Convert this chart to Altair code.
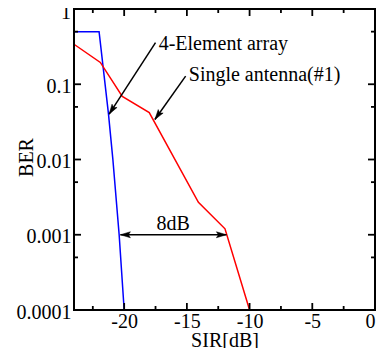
import math
import altair as alt
import pandas as pd

# ---- data ----
sir_array = [-24, -22.0, -21.25, -20.9, -20.4, -20.0]
ber_array = [0.5, 0.5, 0.04, 0.01, 0.001, 0.0001]
sir_single = [-24, -21.9, -20.15, -18.0, -14.08, -11.96, -10.0]
ber_single = [0.34, 0.195, 0.069, 0.042, 0.0027, 0.0012, 0.0001]

x_labels = [-20, -15, -10, -5, 0]
y_labels = [0.1, 0.01, 0.001, 0.0001]
y_top_label = [1]
x_major = [-20, -15, -10, -5]
x_minor = [-22.5, -17.5, -12.5, -7.5, -2.5]
y_major = [0.1, 0.01, 0.001]
y_minor = [0.5, 0.05, 0.005, 0.0005]

left_text = ["4-Element array", "Single antenna(#1)"]
left_text_x = [-17.25, -14.85]
left_text_y = [0.288, 0.110]
center_text = ["8dB"]
center_text_x = [-16.1]
center_text_y = [0.00114]

arrow_x = [-17.5, -15.1, -20.3]
arrow_y = [0.357, 0.128, 0.001]
arrow_x2 = [-21.2, -17.55, -11.85]
arrow_y2 = [0.04, 0.034, 0.001]
arrow_double = [False, False, True]

W, H = 301, 301
X_DOM = [-24, 0]
Y_DOM = [0.0001, 1]
FONT = "Liberation Serif"
MAJOR_LEN, MINOR_LEN = 7, 4


def px(x):
    return (x - X_DOM[0]) / (X_DOM[1] - X_DOM[0]) * W


def py(y):
    return (math.log10(Y_DOM[1]) - math.log10(y)) / (math.log10(Y_DOM[1]) - math.log10(Y_DOM[0])) * H


def head_angle(xf, yf, xt, yt):
    dx = px(xt) - px(xf)
    dy = py(yt) - py(yf)
    return math.degrees(math.atan2(dx, -dy)) % 360


heads = []
for i in range(len(arrow_x)):
    heads.append({"x": arrow_x2[i], "y": arrow_y2[i],
                  "ang": head_angle(arrow_x[i], arrow_y[i], arrow_x2[i], arrow_y2[i])})
    if arrow_double[i]:
        heads.append({"x": arrow_x[i], "y": arrow_y[i],
                      "ang": head_angle(arrow_x2[i], arrow_y2[i], arrow_x[i], arrow_y[i])})
heads_df = pd.DataFrame(heads)

# inward tick marks on all four sides (lengths converted from pixels to data units)
x_per_px = (X_DOM[1] - X_DOM[0]) / W
dec_per_px = (math.log10(Y_DOM[1]) - math.log10(Y_DOM[0])) / H
ticks = []
for vals, L in ((x_major, MAJOR_LEN), (x_minor, MINOR_LEN)):
    for v in vals:
        ticks.append({"tx": v, "tx2": v, "ty": Y_DOM[0], "ty2": Y_DOM[0] * 10 ** (L * dec_per_px)})
        ticks.append({"tx": v, "tx2": v, "ty": Y_DOM[1], "ty2": Y_DOM[1] * 10 ** (-L * dec_per_px)})
for vals, L in ((y_major, MAJOR_LEN), (y_minor, MINOR_LEN)):
    for v in vals:
        ticks.append({"tx": X_DOM[0], "tx2": X_DOM[0] + L * x_per_px, "ty": v, "ty2": v})
        ticks.append({"tx": X_DOM[1], "tx2": X_DOM[1] - L * x_per_px, "ty": v, "ty2": v})
ticks_df = pd.DataFrame(ticks)

lines_df = pd.concat([
    pd.DataFrame({"x": sir_array, "y": ber_array, "s": "array"}),
    pd.DataFrame({"x": sir_single, "y": ber_single, "s": "single"}),
])

xs = alt.Scale(domain=X_DOM, nice=False, zero=False)
ys = alt.Scale(type="log", domain=Y_DOM, nice=False)

x_axis = alt.Axis(orient="bottom", values=x_labels, ticks=False, domain=False, grid=False,
                  labelExpr="'' + datum.value", labelFont=FONT, labelFontSize=20,
                  labelColor="black", labelPadding=1, labelFlush=True, labelOverlap=False,
                  title="SIR[dB]", titleFont=FONT, titleFontSize=20, titleFontWeight="normal",
                  titleColor="black", titleBaseline="alphabetic", titleY=36)
y_axis = alt.Axis(orient="left", values=y_labels, ticks=False, domain=False, grid=False,
                  labelExpr="'' + datum.value", labelFont=FONT, labelFontSize=20,
                  labelColor="black", labelPadding=3, labelFlush=False, labelOverlap=False,
                  labelOffset=2,
                  title="BER", titleFont=FONT, titleFontSize=20, titleFontWeight="normal",
                  titleColor="black", titleAngle=270, titleBaseline="alphabetic",
                  titleAlign="center", titleX=-42, titleY=148)

lines = alt.Chart(lines_df).mark_line(strokeWidth=1.5).encode(
    x=alt.X("x:Q", scale=xs, axis=x_axis),
    y=alt.Y("y:Q", scale=ys, axis=y_axis),
    color=alt.Color("s:N", scale=alt.Scale(domain=["array", "single"], range=["#0000ff", "#ff0000"]), legend=None),
)

frame = alt.Chart(pd.DataFrame({"f": [0]})).mark_rect(
    filled=False, stroke="black", strokeWidth=2).encode(
    x=alt.value(0), x2=alt.value(W), y=alt.value(0), y2=alt.value(H))

tick_layer = alt.Chart(ticks_df).mark_rule(color="black", strokeWidth=1.8, opacity=1).encode(
    x=alt.X("tx:Q", scale=xs, axis=None), y=alt.Y("ty:Q", scale=ys, axis=None),
    x2="tx2:Q", y2="ty2:Q")

top_label = alt.Chart(pd.DataFrame({"y": y_top_label, "t": [str(v) for v in y_top_label]})).mark_text(
    align="right", baseline="middle", font=FONT, fontSize=20, color="black", dx=-3, dy=4).encode(
    x=alt.value(0), y=alt.Y("y:Q", scale=ys, axis=None), text="t:N")

arrows_df = pd.DataFrame({"x": arrow_x, "y": arrow_y, "x2": arrow_x2, "y2": arrow_y2})
shafts = alt.Chart(arrows_df).mark_rule(color="black", strokeWidth=1.5).encode(
    x=alt.X("x:Q", scale=xs, axis=None), y=alt.Y("y:Q", scale=ys, axis=None),
    x2="x2:Q", y2="y2:Q")

head_path = "M0,0 L-0.6,2 L0,1.6 L0.6,2 Z"
heads_layer = alt.Chart(heads_df).mark_point(
    shape=head_path, size=100, filled=True, fill="black", stroke="black",
    strokeWidth=0.5, opacity=1).encode(
    x=alt.X("x:Q", scale=xs, axis=None), y=alt.Y("y:Q", scale=ys, axis=None),
    angle=alt.Angle("ang:Q", scale=None))

t_left = alt.Chart(pd.DataFrame({"x": left_text_x, "y": left_text_y, "t": left_text})).mark_text(
    align="left", baseline="alphabetic", font=FONT, fontSize=20, color="black").encode(
    x=alt.X("x:Q", scale=xs, axis=None), y=alt.Y("y:Q", scale=ys, axis=None), text="t:N")
t_center = alt.Chart(pd.DataFrame({"x": center_text_x, "y": center_text_y, "t": center_text})).mark_text(
    align="center", baseline="alphabetic", font=FONT, fontSize=20, color="black").encode(
    x=alt.X("x:Q", scale=xs, axis=None), y=alt.Y("y:Q", scale=ys, axis=None), text="t:N")

chart = alt.layer(lines, frame, tick_layer, top_label, shafts, heads_layer, t_left, t_center).resolve_axis(
    x="independent", y="independent"
).properties(
    width=W, height=H,
    background="white",
    view=alt.ViewBackground(stroke="transparent"),
    autosize=alt.AutoSizeParams(type="none"),
    padding={"left": 66, "top": 1, "right": 1, "bottom": 38},
)

chart.save("out.html", embed_options={"renderer": "svg", "actions": False})
